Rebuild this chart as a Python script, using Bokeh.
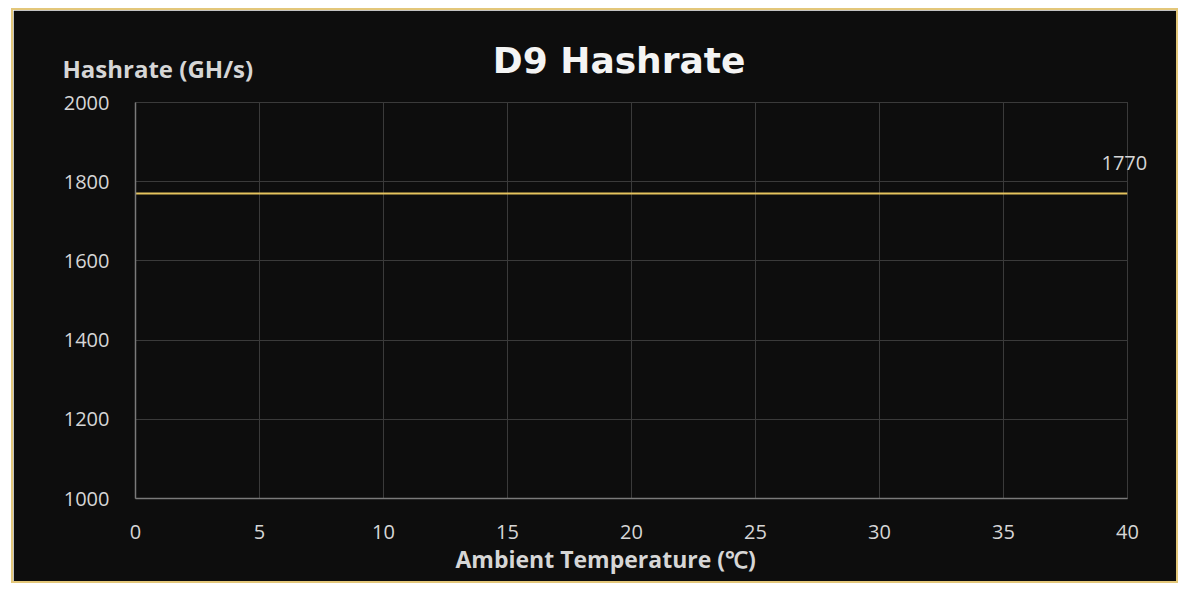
from bokeh.embed import file_html
from bokeh.models import ColumnDataSource, FixedTicker, LinearAxis, Range1d, Title
from bokeh.plotting import figure
from bokeh.resources import INLINE

# data
temps = [0, 40]
hashrate = [1770, 1770]
x_ticks = [0, 5, 10, 15, 20, 25, 30, 35, 40]
y_ticks = [1000, 1200, 1400, 1600, 1800, 2000]
end_label = "1770"
chart_title = "D9 Hashrate"
y_title = "Hashrate (GH/s)"
x_title = "Ambient Temperature (℃)"

BG = "#0d0d0d"
TEXT = "#d6d6d6"
GRID = "#3a3a3a"
FONT = "Open Sans"

p = figure(width=1167, height=575, output_backend="svg", toolbar_location=None,
           x_range=Range1d(0, 40), y_range=Range1d(1000, 2000),
           min_border_left=122, min_border_right=53, min_border_top=92, min_border_bottom=87)
p.styles = {"border": "2px solid #e3c77a", "margin-left": "11px", "margin-top": "8px"}
p.background_fill_color = BG
p.border_fill_color = BG
p.outline_line_color = GRID
p.title.visible = False

p.xaxis.ticker = FixedTicker(ticks=x_ticks)
p.yaxis.ticker = FixedTicker(ticks=y_ticks)
for ax in (p.xaxis, p.yaxis):
  ax.axis_line_color = "#7a7a7a"
  ax.axis_line_width = 1.5
  ax.major_tick_line_color = None
  ax.minor_tick_line_color = None
  ax.major_label_text_color = TEXT
  ax.major_label_text_font = FONT
  ax.major_label_text_font_size = "20px"
p.xaxis.major_label_standoff = 20
p.yaxis.major_label_standoff = 20
p.grid.grid_line_color = GRID
p.grid.grid_line_width = 1

src = ColumnDataSource(dict(temp=temps, rate=hashrate))
p.line(x='temp', y='rate', color="#e5c35e", line_width=2, source=src)


def text_axis(tick, text, standoff, **style):
  # a bare axis carrying one label, used for free texts (labels in the frame get clipped)
  return LinearAxis(ticker=FixedTicker(ticks=[tick]), major_label_overrides={tick: text},
                    axis_line_color=None, major_tick_line_color=None, minor_tick_line_color=None,
                    major_label_standoff=standoff, **style)


# value label at the end of the line
label_y = hashrate[-1] + 78
p.add_layout(text_axis(label_y, end_label, -32, major_label_text_color=TEXT,
                       major_label_text_font=FONT, major_label_text_font_size="20px"), "right")

# y title (inner) and chart title (outer), both above the frame
p.add_layout(text_axis(0.9, y_title, 12, major_label_text_color=TEXT, major_label_text_font=FONT,
                       major_label_text_font_style="bold", major_label_text_font_size="24px"), "above")
p.add_layout(text_axis(19.5, chart_title, -38, major_label_text_color="#f4f4f4",
                       major_label_text_font="DejaVu Sans", major_label_text_font_style="bold",
                       major_label_text_font_size="36px"), "above")

p.add_layout(Title(text=x_title, align="left", offset=320, standoff=-1, text_color=TEXT,
                   text_font=FONT, text_font_style="bold", text_font_size="23px"), "below")

open("out.html", "w").write(file_html(p, INLINE))
